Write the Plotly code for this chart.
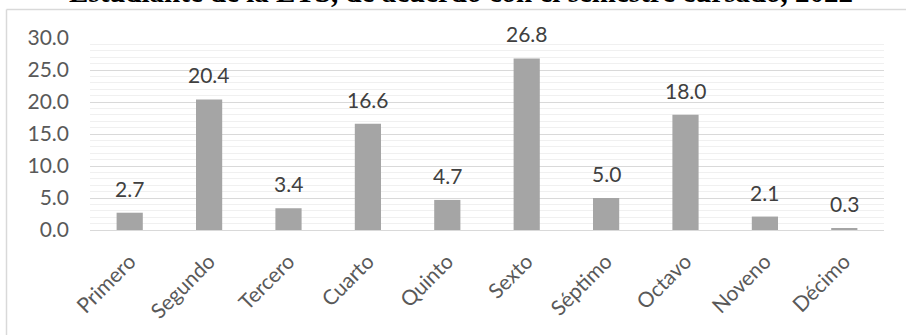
import plotly.graph_objects as go

categories = ["Primero", "Segundo", "Tercero", "Cuarto", "Quinto",
              "Sexto", "Séptimo", "Octavo", "Noveno", "Décimo"]
values = [2.7, 20.4, 3.4, 16.6, 4.7, 26.8, 5.0, 18.0, 2.1, 0.3]
y_ticks = [0, 5, 10, 15, 20, 25, 30]
title_text = "Estudiante de la ETS, de acuerdo con el semestre cursado, 2022"

W, H = 906, 335
ml, mr, mt, mb = 90, 22, 38, 105
pw, ph = W - ml - mr, H - mt - mb

def px_x(p):
    return (p - ml) / pw

def px_y(p):
    return (H - mb - p) / ph

fig = go.Figure()
fig.add_trace(go.Bar(
    x=categories, y=values,
    marker=dict(color="#a5a5a5", line=dict(width=0)),
    hoverinfo="skip",
))

for c, v in zip(categories, values):
    fig.add_annotation(x=c, y=v, text=f"{v:.1f}", showarrow=False,
                       yanchor="bottom", yshift=10,
                       font=dict(family="Lato", size=21, color="#404040"))

fig.add_annotation(xref="paper", yref="paper", x=px_x(461), y=px_y(-8),
                   text=f"<b>{title_text}</b>", showarrow=False,
                   yanchor="middle", xanchor="center",
                   font=dict(family="Liberation Serif", size=29, color="#000000"))

# chart-area border (top and left edges visible)
fig.add_shape(type="line", xref="paper", yref="paper",
              x0=px_x(6.5), x1=px_x(906), y0=px_y(9.5), y1=px_y(9.5),
              line=dict(color="#d9d9d9", width=1.5), layer="above")
fig.add_shape(type="line", xref="paper", yref="paper",
              x0=px_x(6.5), x1=px_x(6.5), y0=px_y(9.5), y1=px_y(335),
              line=dict(color="#d9d9d9", width=1.5), layer="above")

fig.update_layout(
    width=W, height=H,
    margin=dict(l=ml, r=mr, t=mt, b=mb, autoexpand=False),
    paper_bgcolor="white", plot_bgcolor="white",
    bargap=0.67,
    showlegend=False,
    font=dict(family="Lato", size=21, color="#595959"),
)
fig.update_yaxes(range=[0, 30], tickvals=y_ticks,
                 ticktext=[f"{t:.1f}" for t in y_ticks],
                 showgrid=True, gridcolor="#d9d9d9", gridwidth=1,
                 minor=dict(dtick=1, showgrid=True, gridcolor="#f0f0f0", gridwidth=1),
                 zeroline=False, showline=False, ticks="",
                 ticklabelstandoff=20, automargin=False,
                 tickfont=dict(family="Lato", size=21, color="#595959"))
fig.update_xaxes(tickangle=-45, showline=True, linecolor="#d9d9d9", linewidth=1,
                 ticks="", ticklabelstandoff=10, automargin=False,
                 tickfont=dict(family="Lato", size=21, color="#595959"))

fig.write_html("out.html")
